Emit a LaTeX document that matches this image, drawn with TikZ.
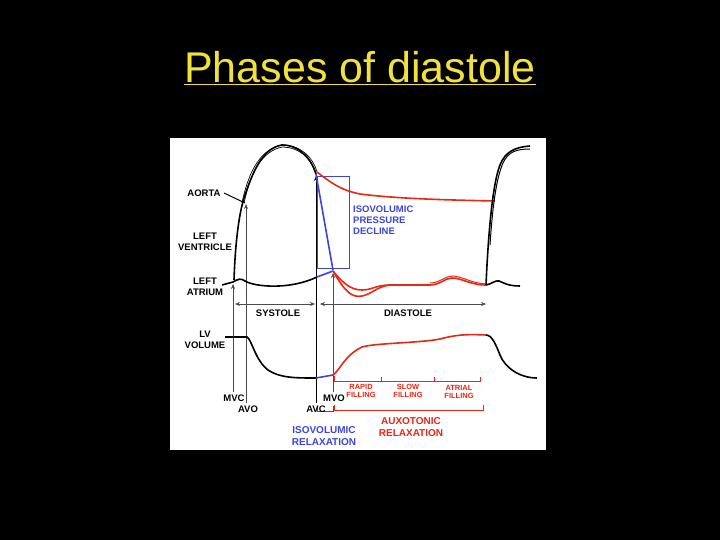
\documentclass[tikz,border=0pt]{standalone}
\usepackage{fontspec}
\setmainfont{Liberation Sans}
\usetikzlibrary{arrows.meta}
\definecolor{rd}{RGB}{232,40,20}
\definecolor{bl}{RGB}{60,70,220}
\definecolor{ttl}{RGB}{240,225,60}
\tikzset{
 lab/.style={font=\bfseries\fontsize{9.5}{11}\selectfont,align=center,inner sep=0pt},
 marker/.style={draw=black!70,line width=0.5pt,-{Stealth[length=5pt,width=4pt]}},
 crv/.style={line width=1.6pt},
 dbl/.style={double,double distance=1.2pt,line width=0.8pt},
}
\begin{document}
\begin{tikzpicture}[x=1pt,y=-1pt]
\fill[black] (0,0) rectangle (720,540);
\useasboundingbox (0,0) rectangle (720,540);
\node[text=ttl,font=\fontsize{43}{46}\selectfont] (title) at (360,68) {\underline{Phases of diastole}};
\fill[white] (170,138) rectangle (546,450);
% vertical markers
\coordinate (mvcb) at (233,392); \coordinate (mvct) at (233,284);
\coordinate (avob) at (246,403); \coordinate (avot) at (246,204);
\coordinate (avcb) at (316,403); \coordinate (avct) at (316,176);
\coordinate (mvob) at (333,392); \coordinate (mvot) at (333,273);
\draw[marker] (mvcb) -- (mvct);
\draw[marker] (avob) -- (avot);
\draw[marker,line width=1pt,draw=black] (avcb) -- (avct);
\draw[marker] (mvob) -- (mvot);
% blue box
\draw[bl,line width=0.6pt] (317,176) rectangle (349,268);
% aorta double line
\draw[dbl] (243,203) .. controls (250,170) and (262,150) .. (282,146) .. controls (300,146) and (312,158) .. (316,172);
% LV curve
\draw[crv] (234,280) .. controls (235,250) and (238,215) .. (245,195) .. controls (255,165) and (265,148) .. (282,145) .. controls (300,145) and (312,160) .. (316,174);
% atrium black
\draw[crv] (222,285) -- (233,282) .. controls (238,279) and (241,278) .. (245,281) .. controls (255,287) and (290,290) .. (317,277);
\draw[bl,crv] (317,277) -- (333,271);
\draw[bl,crv] (316,174) -- (333,270);
% red aorta decline
\draw[rd,crv] (317,172) .. controls (330,182) and (340,190) .. (360,194) .. controls (400,199) and (450,200) .. (495,201);
% red LV
\draw[rd,crv] (333,271) .. controls (342,282) and (350,290) .. (362,290) .. controls (372,290) and (376,285) .. (390,285) -- (430,285) .. controls (440,285) and (445,278) .. (452,278) .. controls (462,278) and (470,285) .. (486,285);
\draw[rd,crv] (333,271) .. controls (345,292) and (352,298) .. (362,296) .. controls (372,294) and (378,286) .. (390,285);
\draw[rd,line width=1pt] (430,283) .. controls (440,283) and (445,276) .. (452,276) .. controls (462,276) and (470,283) .. (486,284);
% right black
\draw[crv] (486,285) .. controls (488,240) and (492,185) .. (500,165) .. controls (505,152) and (515,147) .. (530,146);
\draw[line width=1pt] (490,245) .. controls (493,200) and (497,177) .. (503,163) .. controls (508,152) and (516,149) .. (530,149);
\draw[crv] (486,285) .. controls (492,284) and (495,280) .. (499,281) .. controls (504,283) and (508,286) .. (520,286);
% aorta pointer
\draw[line width=1pt] (224,193) -- (245,203);
% cycle arrows
\draw[marker,{Stealth[length=5pt,width=4pt]}-{Stealth[length=5pt,width=4pt]}] (235,304) -- (315,304);
\draw[marker,{Stealth[length=5pt,width=4pt]}-{Stealth[length=5pt,width=4pt]}] (320,304) -- (486,304);
% volume
\draw[crv] (225,337) -- (247,337) .. controls (252,340) and (255,360) .. (268,370) .. controls (280,378) and (295,378) .. (316,378);
\draw[bl,crv] (316,378) -- (333,375);
\draw[rd,crv] (333,375) .. controls (340,370) and (345,355) .. (362,347) .. controls (375,343) and (420,343) .. (440,339) .. controls (455,335) and (465,334) .. (486,335);
\draw[crv] (486,335) .. controls (492,335) and (496,345) .. (500,355) .. controls (505,368) and (520,378) .. (537,378);
% brackets
\draw[rd,line width=0.7pt] (334,376) -- (334,381) -- (480,381) -- (480,377) (381,381) -- (381,377) (434,381) -- (434,377);
\draw[rd,line width=0.7pt] (334,405) -- (334,410) -- (483,410) -- (483,405);
\draw[bl,line width=0.7pt] (317,406) -- (317,411) -- (333,411) -- (333,406);
% labels
\node[lab] (la) at (204,193) {AORTA};
\node[lab] (lv) at (205,242) {LEFT\\VENTRICLE};
\node[lab] (lat) at (205,287) {LEFT\\ATRIUM};
\node[lab] (lvv) at (205,340) {LV\\VOLUME};
\node[lab] (sy) at (278,313) {SYSTOLE};
\node[lab] (di) at (408,313) {DIASTOLE};
\node[lab] (mvc) at (234,398) {MVC};
\node[lab] (avo) at (248,409) {AVO};
\node[lab] (avc) at (316,409) {AVC};
\node[lab] (mvo) at (334,398) {MVO};
\node[lab,text=bl,align=left,anchor=north west] (ipd) at (353,206) {ISOVOLUMIC\\PRESSURE\\DECLINE};
\node[lab,text=rd,font=\bfseries\fontsize{7.5}{8.5}\selectfont] (rf) at (361,391) {RAPID\\FILLING};
\node[lab,text=rd,font=\bfseries\fontsize{7.5}{8.5}\selectfont] (sf) at (408,391) {SLOW\\FILLING};
\node[lab,text=rd,font=\bfseries\fontsize{7.5}{8.5}\selectfont] (af) at (459,392) {ATRIAL\\FILLING};
\node[lab,text=rd,font=\bfseries\fontsize{10}{11.5}\selectfont] (ax) at (411,427) {AUXOTONIC\\RELAXATION};
\node[lab,text=bl,font=\bfseries\fontsize{10}{11.5}\selectfont] (ir) at (324,436) {ISOVOLUMIC\\RELAXATION};
\end{tikzpicture}
\end{document}
